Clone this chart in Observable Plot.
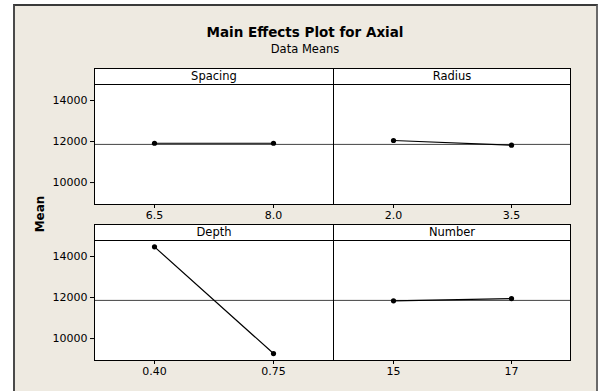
<!DOCTYPE html>
<html><head><meta charset="utf-8">
<script src="https://cdn.jsdelivr.net/npm/d3@7"></script>
<script src="https://cdn.jsdelivr.net/npm/@observablehq/plot@0.6"></script>
<style>
html,body{margin:0;padding:0;background:#fff;}
body{width:599px;height:391px;overflow:hidden;position:relative;font-family:"DejaVu Sans",sans-serif;color:#000;}
#frame{position:absolute;left:13px;top:4px;width:581px;height:400px;background:#EEEAE1;border-left:2px solid #4a4a4a;border-top:2px solid #3a3a3a;border-right:2px solid #6a6a6a;}
#title{position:absolute;left:14px;width:582px;top:24px;text-align:center;font-weight:bold;font-size:13.5px;line-height:16px;}
#subtitle{position:absolute;left:14px;width:582px;top:42px;text-align:center;font-size:11.5px;line-height:14px;}
#ylab{position:absolute;left:40px;top:214px;transform:translate(-50%,-50%) rotate(-90deg);font-weight:bold;font-size:12px;white-space:nowrap;}
.strip{position:absolute;box-sizing:border-box;height:17px;background:#fff;border:1px solid #000;text-align:center;font-size:11.5px;line-height:15px;}
.panel{position:absolute;}
</style>
</head><body>
<div id="frame"></div>
<div id="title">Main Effects Plot for Axial</div>
<div id="subtitle">Data Means</div>
<div id="ylab">Mean</div>
<script>
const factors = ["Spacing", "Radius", "Depth", "Number"];
const levels = [["6.5", "8.0"], ["2.0", "3.5"], ["0.40", "0.75"], ["15", "17"]];
const means = [[11915, 11915], [12050, 11820], [14470, 9270], [11840, 11950]];
const grandMean = 11860;
const yTicks = [10000, 12000, 14000];
const yDomain = [8930, 14780];

// panel frames: [left, top, width]  (frame height 120)
const layout = [
  {left: 94, top: 84, w: 239, axis: true},
  {left: 333, top: 84, w: 237, axis: false},
  {left: 94, top: 240, w: 239, axis: true},
  {left: 333, top: 240, w: 237, axis: false}
];

factors.forEach((f, i) => {
  const L = layout[i];
  const data = levels[i].map((lv, j) => ({level: lv, mean: means[i][j]}));
  const mL = L.axis ? 60 : 0;
  const mR = 1;
  const mB = 24;
  const chart = Plot.plot({
    width: mL + L.w + mR,
    height: 120 + mB,
    marginLeft: mL, marginRight: mR, marginTop: 0, marginBottom: mB,
    style: {background: "transparent", fontFamily: '"DejaVu Sans", sans-serif', fontSize: "11px", color: "#000", overflow: "visible"},
    x: {type: "point", domain: levels[i], padding: 0.5, label: null, tickSize: 4, tickPadding: 3},
    y: {domain: yDomain, ticks: yTicks, label: null, tickSize: 4, tickPadding: 3, axis: L.axis ? "left" : null, tickFormat: d => String(d)},
    marks: [
      Plot.frame({fill: "white", stroke: null}),
      Plot.ruleY([grandMean], {stroke: "#444", strokeWidth: 1}),
      Plot.line(data, {x: "level", y: "mean", stroke: "#000", strokeWidth: 1.2}),
      Plot.dot(data, {x: "level", y: "mean", fill: "#000", stroke: null, r: 2.6}),
      Plot.frame({stroke: "#000", strokeWidth: 1})
    ]
  });
  const wrap = document.createElement("div");
  wrap.className = "panel";
  wrap.style.left = (L.left - mL) + "px";
  wrap.style.top = L.top + "px";
  wrap.appendChild(chart);
  document.body.appendChild(wrap);

  const strip = document.createElement("div");
  strip.className = "strip";
  strip.style.left = L.left + "px";
  strip.style.top = (L.top - 16) + "px";
  strip.style.width = (L.w + 1) + "px";
  strip.textContent = f;
  document.body.appendChild(strip);
});
</script>
</body></html>
